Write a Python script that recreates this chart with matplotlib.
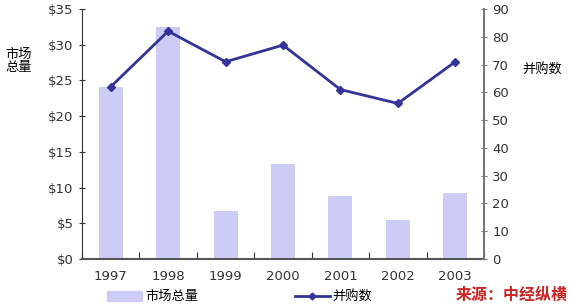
import matplotlib.pyplot as plt
from matplotlib.lines import Line2D
from matplotlib.patches import Patch
import numpy as np

plt.rcParams['font.family'] = ['Noto Sans CJK SC', 'DejaVu Sans']

years = ['1997', '1998', '1999', '2000', '2001', '2002', '2003']
market_total = [24.1, 32.5, 6.7, 13.3, 8.8, 5.4, 9.2]
deal_count = [62, 82, 71, 77, 61, 56, 71]

bar_color = '#CCCCF7'
line_color = '#333399'


def draw_chart():
    fig = plt.figure(figsize=(5.75, 3.06), dpi=100)
    ax = fig.add_axes([0.1426, 0.1536, 0.6991, 0.817])
    x = np.arange(len(years))

    ax.bar(x, market_total, width=0.42, color=bar_color, zorder=1)
    ax.set_xlim(-0.5, len(years) - 0.5)
    ax.set_ylim(0, 35)
    ax.set_yticks(range(0, 36, 5))
    ax.set_yticklabels(['$%d' % v for v in range(0, 36, 5)],
                       family='DejaVu Sans', fontsize=9.5, color='#333333')
    # ticks sit between categories, labels in the middle
    ax.set_xticks(np.arange(-0.5, len(years), 1.0))
    ax.set_xticklabels([])
    ax.set_xticks(x, minor=True)
    ax.set_xticklabels(years, minor=True, family='DejaVu Sans',
                       fontsize=9.5, color='#333333')
    ax.tick_params(axis='x', which='minor', length=0, pad=8)
    ax.tick_params(axis='x', which='major', length=5, direction='in',
                   color='#333333')
    ax.tick_params(axis='y', length=5, direction='inout', color='#333333')
    for side in ['top', 'right']:
        ax.spines[side].set_visible(False)
    ax.spines['left'].set_color('#333333')
    ax.spines['bottom'].set_color('#555555')
    ax.spines['bottom'].set_linewidth(1.5)

    ax2 = ax.twinx()
    ax2.plot(x, deal_count, color=line_color, lw=2, marker='D',
             markersize=4, zorder=3)
    ax2.set_ylim(0, 90)
    ax2.set_yticks(range(0, 91, 10))
    ax2.tick_params(axis='y', length=5, direction='inout', color='#777777',
                    labelsize=9.5, labelcolor='#333333')
    for t in ax2.get_yticklabels():
        t.set_family('DejaVu Sans')
    for side in ['top', 'left', 'bottom']:
        ax2.spines[side].set_visible(False)
    ax2.spines['right'].set_color('#777777')
    ax2.spines['right'].set_linewidth(1.5)

    fig.text(0.01, 0.80, '市场\n总量', fontsize=9.5, ha='left', va='center',
             linespacing=1.0)
    fig.text(0.908, 0.772, '并购数', fontsize=9.5, ha='left', va='center')

    handles = [Patch(color=bar_color)]
    fig.legend(handles, ['市场总量'], loc='center left',
               bbox_to_anchor=(0.175, 0.03), frameon=False, fontsize=9.5,
               handlelength=2.6, handleheight=0.8, handletextpad=0.3,
               borderpad=0)
    handles = [Line2D([], [], color=line_color, lw=2, marker='D',
                      markersize=3.5)]
    fig.legend(handles, ['并购数'], loc='center left',
               bbox_to_anchor=(0.502, 0.03), frameon=False, fontsize=9.5,
               handlelength=2.6, handletextpad=0.2, borderpad=0)

    fig.text(0.988, 0.035, '来源：中经纵横', color='#CC2222', fontsize=11.5,
             fontweight='bold', style='italic', ha='right', va='center')

    plt.savefig('out.png', dpi=100)


if __name__ == '__main__':
    draw_chart()
